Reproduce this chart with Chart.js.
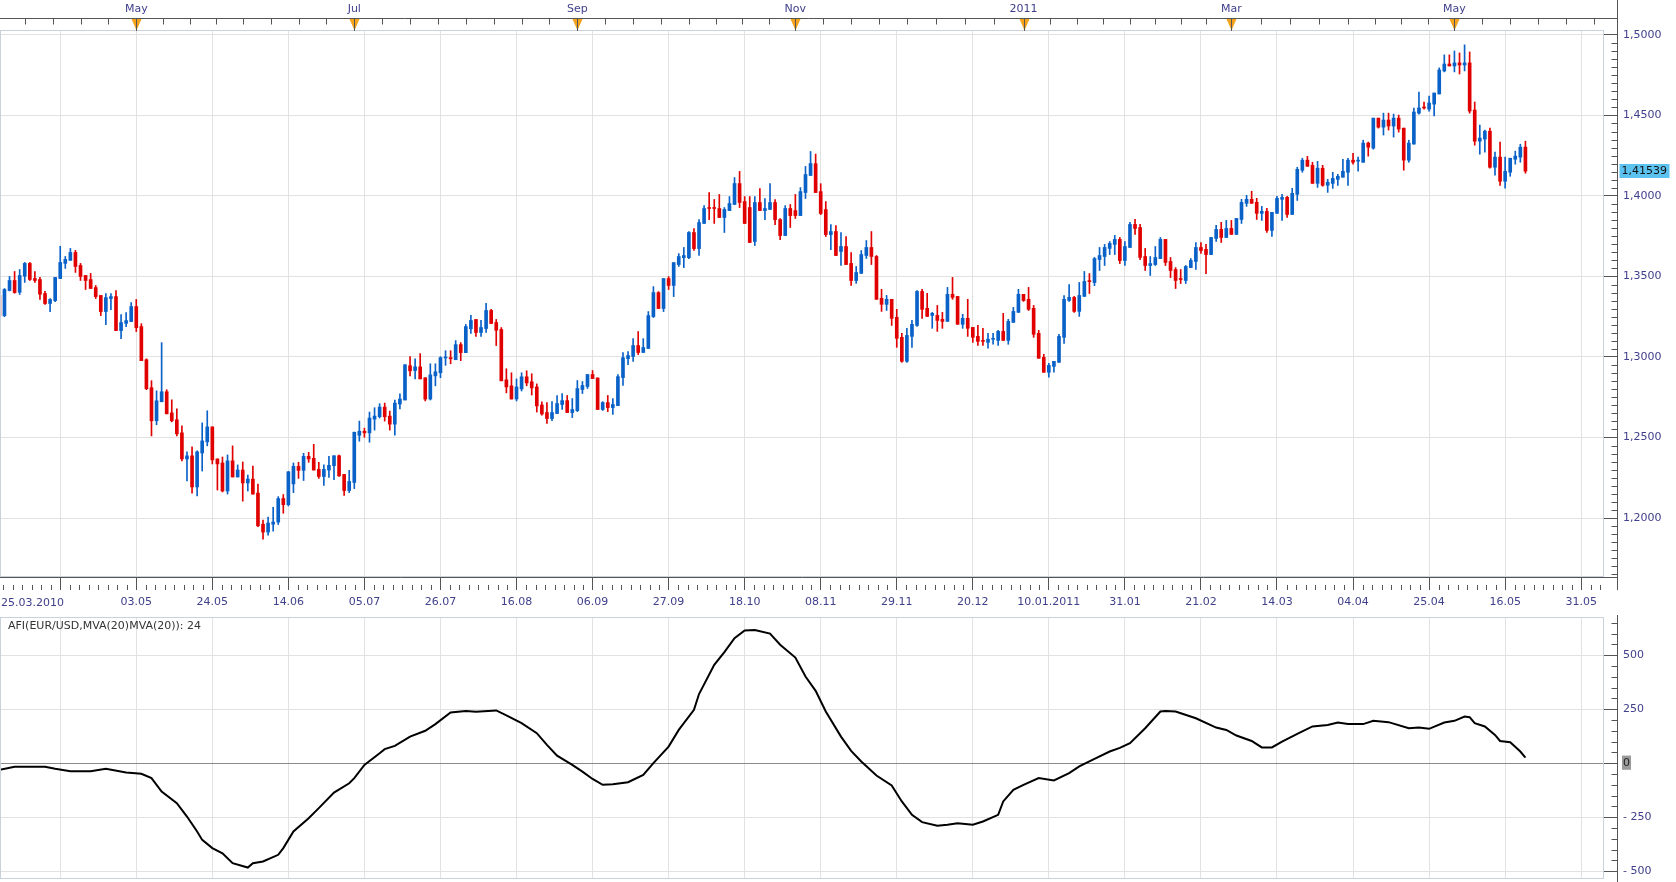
<!DOCTYPE html>
<html>
<head>
<meta charset="utf-8">
<title>EUR/USD daily</title>
<script src="https://cdn.jsdelivr.net/npm/chart.js@4.4.1/dist/chart.umd.min.js"></script>
<style>
  html, body { margin: 0; padding: 0; background: #fff; }
  #wrap { position: relative; width: 1676px; height: 882px; overflow: hidden; }
  #priceChart { position: absolute; left: 0; top: 0; }
  #afiChart { position: absolute; left: 0; top: 615px; }
</style>
</head>
<body>
<div id="wrap">
  <canvas id="priceChart" width="1676" height="615"></canvas>
  <canvas id="afiChart" width="1676" height="267"></canvas>
</div>
<script>
// EUR/USD daily candles, 25.03.2010 .. 20.05.2011 (index = trading day)
const opens = [
  1.3382, 1.3257, 1.3413, 1.3475, 1.3402, 1.3502, 1.3581, 1.3487, 1.3481, 1.3394,
  1.3332, 1.3350, 1.3487, 1.3581, 1.3600, 1.3649, 1.3568, 1.3506, 1.3481, 1.3431,
  1.3382, 1.3282, 1.3363, 1.3375, 1.3164, 1.3209, 1.3220, 1.3313, 1.3189, 1.2983,
  1.2809, 1.2604, 1.2722, 1.2784, 1.2653, 1.2610, 1.2529, 1.2367, 1.2386, 1.2193,
  1.2404, 1.2473, 1.2566, 1.2367, 1.2342, 1.2168, 1.2355, 1.2255, 1.2298, 1.2218,
  1.2242, 1.2155, 1.1962, 1.1913, 1.1962, 1.1975, 1.2121, 1.2083, 1.2212, 1.2321,
  1.2296, 1.2383, 1.2371, 1.2302, 1.2258, 1.2298, 1.2325, 1.2387, 1.2271, 1.2171,
  1.2221, 1.2514, 1.2539, 1.2529, 1.2614, 1.2629, 1.2689, 1.2633, 1.2583, 1.2708,
  1.2733, 1.2946, 1.2916, 1.2939, 1.2871, 1.2739, 1.2883, 1.2902, 1.2994, 1.2996,
  1.2983, 1.3077, 1.3027, 1.3175, 1.3233, 1.3152, 1.3177, 1.3289, 1.3214, 1.3171,
  1.2858, 1.2821, 1.2739, 1.2802, 1.2877, 1.2846, 1.2814, 1.2702, 1.2655, 1.2618,
  1.2649, 1.2705, 1.2729, 1.2655, 1.2667, 1.2798, 1.2817, 1.2891, 1.2870, 1.2674,
  1.2717, 1.2686, 1.2698, 1.2872, 1.2990, 1.3003, 1.3071, 1.3028, 1.3053, 1.3251,
  1.3400, 1.3301, 1.3487, 1.3444, 1.3574, 1.3617, 1.3617, 1.3773, 1.3673, 1.3829,
  1.3928, 1.3928, 1.3922, 1.3866, 1.3909, 1.3947, 1.4077, 1.3965, 1.3928, 1.3717,
  1.3959, 1.3909, 1.3916, 1.3959, 1.3853, 1.3754, 1.3922, 1.3909, 1.3878, 1.4021,
  1.4127, 1.4200, 1.4027, 1.3915, 1.3760, 1.3779, 1.3655, 1.3686, 1.3581, 1.3475,
  1.3519, 1.3630, 1.3680, 1.3624, 1.3364, 1.3327, 1.3358, 1.3246, 1.3122, 1.2973,
  1.3128, 1.3196, 1.3407, 1.3302, 1.3258, 1.3258, 1.3234, 1.3221, 1.3389, 1.3376,
  1.3203, 1.3240, 1.3184, 1.3128, 1.3103, 1.3091, 1.3110, 1.3103, 1.3159, 1.3103,
  1.3215, 1.3277, 1.3389, 1.3358, 1.3302, 1.3147, 1.2998, 1.2905, 1.2942, 1.2967,
  1.3122, 1.3351, 1.3370, 1.3283, 1.3376, 1.3474, 1.3462, 1.3605, 1.3624, 1.3674,
  1.3699, 1.3730, 1.3599, 1.3680, 1.3823, 1.3804, 1.3624, 1.3568, 1.3574, 1.3611,
  1.3730, 1.3593, 1.3543, 1.3487, 1.3475, 1.3555, 1.3593, 1.3680, 1.3668, 1.3636,
  1.3736, 1.3792, 1.3742, 1.3798, 1.3761, 1.3854, 1.3954, 1.3979, 1.3960, 1.3892,
  1.3904, 1.3786, 1.3892, 1.3979, 1.3991, 1.3885, 1.4010, 1.4159, 1.4222, 1.4190,
  1.4078, 1.4172, 1.4066, 1.4078, 1.4103, 1.4116, 1.4147, 1.4222, 1.4216, 1.4209,
  1.4328, 1.4297, 1.4483, 1.4427, 1.4471, 1.4434, 1.4483, 1.4421, 1.4222, 1.4322,
  1.4514, 1.4552, 1.4539, 1.4570, 1.4633, 1.4776, 1.4819, 1.4807, 1.4826, 1.4813,
  1.4826, 1.4533, 1.4340, 1.4353, 1.4402, 1.4178, 1.4241, 1.4091, 1.4147, 1.4228,
  1.4241, 1.4303
];
const highs = [
  1.3395, 1.3425, 1.3500, 1.3531, 1.3543, 1.3587, 1.3587, 1.3531, 1.3494, 1.3407,
  1.3363, 1.3494, 1.3687, 1.3624, 1.3674, 1.3662, 1.3581, 1.3506, 1.3519, 1.3444,
  1.3382, 1.3394, 1.3394, 1.3413, 1.3263, 1.3276, 1.3338, 1.3357, 1.3207, 1.2989,
  1.2853, 1.2790, 1.3089, 1.2797, 1.2734, 1.2678, 1.2572, 1.2411, 1.2442, 1.2417,
  1.2591, 1.2666, 1.2566, 1.2367, 1.2379, 1.2392, 1.2448, 1.2330, 1.2348, 1.2267,
  1.2323, 1.2211, 1.1987, 1.2006, 1.2066, 1.2133, 1.2146, 1.2290, 1.2342, 1.2346,
  1.2402, 1.2408, 1.2458, 1.2346, 1.2331, 1.2383, 1.2387, 1.2391, 1.2271, 1.2296,
  1.2533, 1.2602, 1.2558, 1.2658, 1.2685, 1.2710, 1.2714, 1.2664, 1.2733, 1.2771,
  1.2952, 1.3002, 1.2989, 1.3021, 1.2871, 1.2958, 1.2958, 1.3002, 1.3039, 1.3039,
  1.3102, 1.3089, 1.3202, 1.3258, 1.3233, 1.3227, 1.3333, 1.3296, 1.3233, 1.3183,
  1.2927, 1.2902, 1.2864, 1.2902, 1.2914, 1.2896, 1.2833, 1.2721, 1.2717, 1.2723,
  1.2761, 1.2773, 1.2761, 1.2742, 1.2854, 1.2848, 1.2891, 1.2916, 1.2870, 1.2723,
  1.2761, 1.2742, 1.2891, 1.3028, 1.3034, 1.3114, 1.3158, 1.3114, 1.3282, 1.3437,
  1.3406, 1.3487, 1.3499, 1.3586, 1.3642, 1.3680, 1.3779, 1.3797, 1.3853, 1.3940,
  1.4021, 1.3978, 1.4009, 1.3928, 1.3996, 1.4114, 1.4152, 1.3996, 1.3996, 1.3996,
  1.4046, 1.3984, 1.4077, 1.3978, 1.3860, 1.3940, 1.3947, 1.4009, 1.4052, 1.4183,
  1.4276, 1.4260, 1.4076, 1.3965, 1.3822, 1.3816, 1.3773, 1.3748, 1.3649, 1.3562,
  1.3661, 1.3723, 1.3779, 1.3630, 1.3420, 1.3382, 1.3358, 1.3296, 1.3147, 1.3178,
  1.3227, 1.3413, 1.3420, 1.3395, 1.3277, 1.3320, 1.3277, 1.3432, 1.3494, 1.3376,
  1.3265, 1.3358, 1.3184, 1.3196, 1.3178, 1.3147, 1.3147, 1.3165, 1.3271, 1.3234,
  1.3308, 1.3420, 1.3389, 1.3432, 1.3320, 1.3165, 1.3017, 1.2961, 1.2973, 1.3141,
  1.3382, 1.3450, 1.3376, 1.3463, 1.3531, 1.3518, 1.3618, 1.3680, 1.3699, 1.3717,
  1.3755, 1.3742, 1.3717, 1.3836, 1.3854, 1.3823, 1.3674, 1.3624, 1.3686, 1.3742,
  1.3730, 1.3618, 1.3555, 1.3543, 1.3568, 1.3611, 1.3711, 1.3711, 1.3699, 1.3742,
  1.3817, 1.3836, 1.3848, 1.3848, 1.3860, 1.3979, 1.4004, 1.4029, 1.3985, 1.3935,
  1.3923, 1.3898, 1.3997, 1.4010, 1.3997, 1.4047, 1.4178, 1.4234, 1.4246, 1.4209,
  1.4215, 1.4190, 1.4103, 1.4147, 1.4134, 1.4228, 1.4234, 1.4265, 1.4241, 1.4346,
  1.4334, 1.4483, 1.4483, 1.4514, 1.4514, 1.4508, 1.4502, 1.4421, 1.4346, 1.4546,
  1.4645, 1.4583, 1.4620, 1.4639, 1.4795, 1.4876, 1.4876, 1.4900, 1.4888, 1.4938,
  1.4894, 1.4583, 1.4440, 1.4409, 1.4421, 1.4272, 1.4334, 1.4241, 1.4234, 1.4278,
  1.4321, 1.4340
];
const lows = [
  1.3250, 1.3250, 1.3410, 1.3396, 1.3388, 1.3463, 1.3475, 1.3463, 1.3357, 1.3326,
  1.3282, 1.3344, 1.3487, 1.3550, 1.3600, 1.3525, 1.3475, 1.3419, 1.3425, 1.3363,
  1.3257, 1.3201, 1.3294, 1.3164, 1.3114, 1.3189, 1.3220, 1.3158, 1.2977, 1.2797,
  1.2510, 1.2579, 1.2722, 1.2647, 1.2597, 1.2510, 1.2355, 1.2230, 1.2155, 1.2137,
  1.2292, 1.2448, 1.2336, 1.2174, 1.2162, 1.2149, 1.2255, 1.2255, 1.2105, 1.2168,
  1.2149, 1.1946, 1.1869, 1.1894, 1.1919, 1.1960, 1.2030, 1.2075, 1.2158, 1.2246,
  1.2233, 1.2346, 1.2298, 1.2246, 1.2202, 1.2252, 1.2239, 1.2258, 1.2140, 1.2158,
  1.2183, 1.2477, 1.2502, 1.2471, 1.2546, 1.2621, 1.2602, 1.2546, 1.2514, 1.2677,
  1.2733, 1.2883, 1.2864, 1.2864, 1.2727, 1.2733, 1.2821, 1.2871, 1.2948, 1.2958,
  1.2983, 1.2977, 1.3027, 1.3146, 1.3127, 1.3127, 1.3152, 1.3208, 1.3071, 1.2852,
  1.2777, 1.2739, 1.2727, 1.2789, 1.2821, 1.2764, 1.2658, 1.2639, 1.2587, 1.2605,
  1.2649, 1.2674, 1.2655, 1.2624, 1.2661, 1.2773, 1.2804, 1.2866, 1.2674, 1.2668,
  1.2661, 1.2643, 1.2698, 1.2823, 1.2953, 1.2972, 1.3015, 1.3028, 1.3053, 1.3245,
  1.3301, 1.3282, 1.3419, 1.3375, 1.3562, 1.3555, 1.3611, 1.3661, 1.3630, 1.3829,
  1.3853, 1.3829, 1.3866, 1.3773, 1.3909, 1.3947, 1.3928, 1.3829, 1.3711, 1.3692,
  1.3909, 1.3853, 1.3916, 1.3822, 1.3729, 1.3754, 1.3804, 1.3860, 1.3878, 1.3984,
  1.4127, 1.4021, 1.3884, 1.3748, 1.3667, 1.3630, 1.3568, 1.3574, 1.3444, 1.3457,
  1.3519, 1.3612, 1.3574, 1.3358, 1.3283, 1.3289, 1.3196, 1.3060, 1.2967, 1.2967,
  1.3060, 1.3190, 1.3240, 1.3252, 1.3178, 1.3159, 1.3178, 1.3221, 1.3358, 1.3203,
  1.3178, 1.3128, 1.3091, 1.3072, 1.3072, 1.3054, 1.3079, 1.3072, 1.3103, 1.3079,
  1.3215, 1.3277, 1.3345, 1.3289, 1.3122, 1.2992, 1.2905, 1.2874, 1.2905, 1.2967,
  1.3085, 1.3345, 1.3277, 1.3252, 1.3376, 1.3394, 1.3443, 1.3537, 1.3568, 1.3636,
  1.3636, 1.3580, 1.3568, 1.3680, 1.3761, 1.3605, 1.3537, 1.3506, 1.3568, 1.3611,
  1.3568, 1.3493, 1.3425, 1.3456, 1.3456, 1.3555, 1.3543, 1.3643, 1.3518, 1.3636,
  1.3717, 1.3711, 1.3742, 1.3761, 1.3761, 1.3829, 1.3935, 1.3954, 1.3854, 1.3848,
  1.3773, 1.3748, 1.3892, 1.3848, 1.3867, 1.3885, 1.3972, 1.4147, 1.4184, 1.4078,
  1.4053, 1.4060, 1.4022, 1.4047, 1.4066, 1.4116, 1.4066, 1.4197, 1.4153, 1.4209,
  1.4247, 1.4290, 1.4421, 1.4378, 1.4409, 1.4365, 1.4396, 1.4160, 1.4209, 1.4322,
  1.4508, 1.4539, 1.4527, 1.4496, 1.4633, 1.4770, 1.4807, 1.4770, 1.4757, 1.4776,
  1.4514, 1.4315, 1.4259, 1.4272, 1.4172, 1.4129, 1.4066, 1.4048, 1.4122, 1.4197,
  1.4209, 1.4141
];
const closes = [
  1.3257, 1.3419, 1.3475, 1.3400, 1.3506, 1.3581, 1.3481, 1.3475, 1.3390, 1.3332,
  1.3357, 1.3494, 1.3587, 1.3606, 1.3649, 1.3562, 1.3500, 1.3475, 1.3425, 1.3375,
  1.3282, 1.3369, 1.3375, 1.3164, 1.3214, 1.3226, 1.3313, 1.3182, 1.2977, 1.2803,
  1.2604, 1.2728, 1.2784, 1.2647, 1.2604, 1.2523, 1.2367, 1.2386, 1.2193, 1.2411,
  1.2479, 1.2566, 1.2361, 1.2336, 1.2168, 1.2355, 1.2255, 1.2298, 1.2218, 1.2242,
  1.2149, 1.1952, 1.1913, 1.1969, 1.1975, 1.2121, 1.2083, 1.2287, 1.2321, 1.2296,
  1.2383, 1.2367, 1.2298, 1.2258, 1.2302, 1.2327, 1.2387, 1.2262, 1.2171, 1.2227,
  1.2533, 1.2539, 1.2529, 1.2621, 1.2633, 1.2689, 1.2629, 1.2583, 1.2714, 1.2739,
  1.2952, 1.2914, 1.2939, 1.2864, 1.2739, 1.2889, 1.2908, 1.2996, 1.3000, 1.2989,
  1.3077, 1.3027, 1.3189, 1.3227, 1.3152, 1.3183, 1.3289, 1.3208, 1.3166, 1.2852,
  1.2814, 1.2739, 1.2814, 1.2877, 1.2839, 1.2808, 1.2696, 1.2646, 1.2618, 1.2655,
  1.2711, 1.2729, 1.2655, 1.2674, 1.2804, 1.2823, 1.2891, 1.2866, 1.2674, 1.2717,
  1.2686, 1.2705, 1.2878, 1.2996, 1.3009, 1.3071, 1.3028, 1.3059, 1.3257, 1.3400,
  1.3301, 1.3487, 1.3444, 1.3586, 1.3624, 1.3630, 1.3773, 1.3673, 1.3835, 1.3922,
  1.3922, 1.3922, 1.3866, 1.3916, 1.3953, 1.4077, 1.3959, 1.3829, 1.3711, 1.3959,
  1.3909, 1.3922, 1.3959, 1.3853, 1.3754, 1.3922, 1.3878, 1.3878, 1.4027, 1.4133,
  1.4201, 1.4021, 1.3891, 1.3760, 1.3779, 1.3630, 1.3686, 1.3574, 1.3475, 1.3525,
  1.3636, 1.3680, 1.3624, 1.3358, 1.3327, 1.3358, 1.3240, 1.3116, 1.2973, 1.3134,
  1.3203, 1.3407, 1.3296, 1.3252, 1.3271, 1.3227, 1.3221, 1.3389, 1.3370, 1.3203,
  1.3240, 1.3178, 1.3122, 1.3097, 1.3097, 1.3110, 1.3116, 1.3159, 1.3103, 1.3221,
  1.3283, 1.3389, 1.3351, 1.3296, 1.3141, 1.2992, 1.2905, 1.2948, 1.2973, 1.3128,
  1.3358, 1.3370, 1.3283, 1.3382, 1.3469, 1.3468, 1.3611, 1.3630, 1.3680, 1.3705,
  1.3730, 1.3599, 1.3686, 1.3823, 1.3798, 1.3618, 1.3568, 1.3580, 1.3618, 1.3730,
  1.3587, 1.3537, 1.3475, 1.3481, 1.3562, 1.3599, 1.3680, 1.3661, 1.3636, 1.3742,
  1.3792, 1.3742, 1.3798, 1.3761, 1.3860, 1.3960, 1.3979, 1.3954, 1.3892, 1.3904,
  1.3786, 1.3898, 1.3985, 1.3991, 1.3885, 1.4016, 1.4165, 1.4222, 1.4184, 1.4078,
  1.4172, 1.4066, 1.4085, 1.4109, 1.4122, 1.4153, 1.4222, 1.4209, 1.4222, 1.4328,
  1.4303, 1.4483, 1.4427, 1.4471, 1.4434, 1.4483, 1.4415, 1.4222, 1.4328, 1.4521,
  1.4546, 1.4546, 1.4577, 1.4639, 1.4782, 1.4819, 1.4807, 1.4826, 1.4813, 1.4826,
  1.4527, 1.4340, 1.4359, 1.4402, 1.4178, 1.4241, 1.4091, 1.4153, 1.4234, 1.4247,
  1.4303, 1.4154
];
const lastPrice = 1.41539;

// AFI indicator, sampled along the curve (trading day index, value)
const afiDays = [
  0, 3, 9, 11, 14, 18, 21, 25, 28, 30, 32, 35, 37, 39, 40, 42, 44, 46, 49, 50,
  52, 55, 56, 58, 61, 63, 66, 69, 70, 72, 75, 76, 78, 81, 84, 86, 89, 92, 94, 98,
  100, 103, 106, 108, 110, 113, 115, 117, 119, 121, 124, 127, 129, 132, 134, 137, 138, 141, 143, 145,
  147, 149, 152, 154, 157, 159, 161, 163, 166, 168, 170, 173, 176, 178, 180, 182, 185, 187, 189, 192,
  194, 197, 198, 200, 202, 205, 208, 211, 213, 216, 219, 221, 223, 226, 229, 230, 232, 236, 240, 242,
  244, 247, 249, 251, 253, 256, 259, 262, 264, 266, 269, 271, 274, 278, 280, 282, 285, 287, 289, 290,
  291, 293, 295, 296, 298, 300, 301
];
const afiValues = [
  -31, -17, -17, -26, -37, -37, -26, -43, -49, -69, -131, -185, -247, -316, -355, -393, -417, -463, -483, -463,
  -455, -424, -393, -316, -255, -208, -136, -93, -69, -8, 46, 65, 80, 123, 150, 181, 235, 241, 238, 244,
  221, 185, 139, 85, 35, -8, -39, -73, -100, -97, -88, -54, 0, 77, 154, 247, 320, 455, 514, 579,
  614, 616, 600, 548, 489, 401, 335, 239, 123, 57, 8, -57, -103, -177, -239, -273, -289, -285, -278, -285,
  -270, -239, -177, -123, -100, -69, -80, -46, -15, 20, 54, 71, 93, 162, 239, 242, 239, 208, 165, 154,
  128, 103, 73, 73, 100, 136, 170, 177, 188, 181, 181, 196, 190, 162, 165, 159, 188, 196, 216, 213,
  185, 170, 131, 103, 97, 54, 26
];

// axes
const firstDateLabel = '25.03.2010';
const dateTickIdx = [12, 27, 42, 57, 72, 87, 102, 117, 132, 147, 162, 177, 192, 207, 222, 237, 252, 267, 282, 297, 312];
const dateTickLabels = ['', '03.05', '24.05', '14.06', '05.07', '26.07', '16.08', '06.09', '27.09', '18.10', '08.11',
  '29.11', '20.12', '10.01.2011', '31.01', '21.02', '14.03', '04.04', '25.04', '16.05', '31.05'];
const monthStarts = [-18, 5, 27, 48, 70, 92, 114, 136, 157, 179, 202, 223, 243, 266, 287, 309, 331];
const monthTickIdx = [27, 70, 114, 157, 202, 243, 287];
const monthTickLabels = ['May', 'Jul', 'Sep', 'Nov', '2011', 'Mar', 'May'];
const priceTicks = [1.20, 1.25, 1.30, 1.35, 1.40, 1.45, 1.50];
const afiTicks = [-500, -250, 0, 250, 500];
const afiTitle = 'AFI(EUR/USD,MVA(20)MVA(20)): 24';

const X_MIN = 0.12, X_MAX = 316.5;
const UP = '#0a62c8', DOWN = '#e10000';
const GRID = '#e2e2e2', FRAME = '#c9d1dc', AXIS = '#555555', TEXT = '#40408c';
const FONT_FAMILY = "'DejaVu Sans', Verdana, sans-serif";

Chart.defaults.font.family = FONT_FAMILY;
Chart.defaults.font.size = 11;

const candleColors = closes.map((c, i) => (c >= opens[i] ? UP : DOWN));
const wickData = highs.map((h, i) => ({ x: i, y: [lows[i], h] }));
const bodyData = opens.map((o, i) => ({ x: i, y: [o, closes[i]] }));

function noPad(s) { s.paddingLeft = 0; s.paddingRight = 0; s.paddingTop = 0; s.paddingBottom = 0; }

// extra axis furniture: frame, top time axis, minor ticks, price tag
const priceDecor = {
  id: 'priceDecor',
  afterDraw(chart) {
    const { ctx, chartArea: a } = chart;
    const xs = chart.scales.x, ys = chart.scales.y;
    const axisX = Math.round(a.right) + 13.5;
    const topY = 18.5;
    ctx.save();
    ctx.lineWidth = 1;

    ctx.strokeStyle = FRAME;
    ctx.strokeRect(a.left + 0.5, a.top - 0.5, a.right - a.left - 1, a.bottom - a.top);

    ctx.strokeStyle = AXIS;
    ctx.beginPath();
    ctx.moveTo(0, topY); ctx.lineTo(axisX, topY);
    ctx.moveTo(axisX, 0); ctx.lineTo(axisX, a.bottom + 13);
    ctx.moveTo(a.right, a.bottom + 0.5); ctx.lineTo(axisX, a.bottom + 0.5);

    for (let k = 0; k < monthStarts.length - 1; k++) {
      const from = monthStarts[k], to = monthStarts[k + 1];
      for (let q = 0; q < 4; q++) {
        const v = from + (to - from) * q / 4;
        if (v < xs.min || v > xs.max) continue;
        const px = Math.round(xs.getPixelForValue(v)) + 0.5;
        ctx.moveTo(px, topY); ctx.lineTo(px, topY + 6);
      }
    }

    const step = 15 / 8;
    for (let k = -8; ; k++) {
      const v = dateTickIdx[0] + k * step;
      if (v > xs.max) break;
      if (v < xs.min || k % 8 === 0) continue;
      const px = Math.round(xs.getPixelForValue(v)) + 0.5;
      ctx.moveTo(px, a.bottom + 8); ctx.lineTo(px, a.bottom + 13);
    }

    for (let m = 233; m <= 300; m++) {
      if (m % 10 === 0) continue;
      const py = Math.round(ys.getPixelForValue(m / 200)) + 0.5;
      ctx.moveTo(axisX - 6, py); ctx.lineTo(axisX, py);
    }
    ctx.stroke();

    monthTickIdx.forEach(v => {
      const px = Math.round(xs.getPixelForValue(v)) + 0.5;
      ctx.fillStyle = '#f5a21c';
      ctx.beginPath();
      ctx.moveTo(px - 5, topY + 0.5);
      ctx.lineTo(px + 5, topY + 0.5);
      ctx.lineTo(px, topY + 12);
      ctx.closePath();
      ctx.fill();
      ctx.beginPath();
      ctx.moveTo(px, topY); ctx.lineTo(px, a.top);
      ctx.stroke();
    });

    ctx.font = '11px ' + FONT_FAMILY;
    ctx.textBaseline = 'middle';
    ctx.textAlign = 'left';
    ctx.fillStyle = TEXT;
    ctx.fillText(firstDateLabel, 1, a.bottom + 26);

    const py = ys.getPixelForValue(lastPrice);
    ctx.fillStyle = '#5cc3f1';
    ctx.fillRect(axisX + 2, Math.round(py) - 7, 50, 14);
    ctx.fillStyle = '#111111';
    ctx.fillText(lastPrice.toFixed(5).replace('.', ','), axisX + 4, Math.round(py) + 0.5);
    ctx.restore();
  }
};

const afiDecor = {
  id: 'afiDecor',
  afterDraw(chart) {
    const { ctx, chartArea: a } = chart;
    const ys = chart.scales.y;
    const axisX = Math.round(a.right) + 13.5;
    ctx.save();
    ctx.lineWidth = 1;
    ctx.strokeStyle = FRAME;
    ctx.strokeRect(a.left + 0.5, a.top - 0.5, a.right - a.left - 1, a.bottom - a.top);

    ctx.strokeStyle = AXIS;
    ctx.beginPath();
    ctx.moveTo(axisX, 0); ctx.lineTo(axisX, chart.height);
    for (let v = -500; v <= 650; v += 50) {
      if (v % 250 === 0) continue;
      const py = Math.round(ys.getPixelForValue(v)) + 0.5;
      ctx.moveTo(axisX - 6, py); ctx.lineTo(axisX, py);
    }
    ctx.stroke();

    ctx.font = '11px ' + FONT_FAMILY;
    ctx.textBaseline = 'middle';
    ctx.textAlign = 'left';
    ctx.fillStyle = '#333333';
    ctx.fillText(afiTitle, 8, a.top + 8);
    ctx.restore();
  }
};

new Chart(document.getElementById('priceChart'), {
  type: 'bar',
  data: {
    datasets: [
      { label: 'High/Low', data: wickData, backgroundColor: candleColors, barThickness: 1, grouped: false },
      { label: 'Open/Close', data: bodyData, backgroundColor: candleColors, barThickness: 3, grouped: false, minBarLength: 1 }
    ]
  },
  options: {
    responsive: false,
    animation: false,
    devicePixelRatio: 1,
    layout: { padding: 0 },
    plugins: { legend: { display: false }, tooltip: { enabled: false } },
    scales: {
      x: {
        type: 'linear', position: 'bottom', min: X_MIN, max: X_MAX, offset: false,
        afterBuildTicks: s => { s.ticks = dateTickIdx.map(v => ({ value: v })); },
        afterFit: s => { s.height = 38; noPad(s); },
        grid: { offset: false, color: GRID, tickColor: AXIS, tickLength: 13 },
        border: { display: true, color: AXIS },
        ticks: { autoSkip: false, maxRotation: 0, padding: 6, color: TEXT, callback: (v, i) => dateTickLabels[i] }
      },
      x2: {
        type: 'linear', position: 'top', min: X_MIN, max: X_MAX, offset: false,
        afterBuildTicks: s => { s.ticks = monthTickIdx.map(v => ({ value: v })); },
        afterFit: s => { s.height = 31; noPad(s); },
        grid: { offset: false, drawOnChartArea: false, drawTicks: false },
        border: { display: false },
        ticks: { autoSkip: false, maxRotation: 0, padding: 15, color: TEXT, callback: (v, i) => monthTickLabels[i] }
      },
      y: {
        position: 'right', min: 1.1634, max: 1.5024,
        afterBuildTicks: s => { s.ticks = priceTicks.map(v => ({ value: v })); },
        afterFit: s => { s.width = 72; noPad(s); },
        grid: { color: GRID, tickColor: AXIS, tickLength: 13 },
        border: { display: false },
        ticks: { padding: 6, color: TEXT, callback: v => v.toFixed(4).replace('.', ',') }
      }
    }
  },
  plugins: [priceDecor]
});

new Chart(document.getElementById('afiChart'), {
  type: 'line',
  data: {
    datasets: [{
      label: afiTitle,
      data: afiDays.map((d, k) => ({ x: d, y: afiValues[k] })),
      borderColor: '#000000',
      borderWidth: 2,
      pointRadius: 0,
      tension: 0,
      fill: false
    }]
  },
  options: {
    responsive: false,
    animation: false,
    devicePixelRatio: 1,
    layout: { padding: { top: 3, left: 0, right: 0, bottom: 0 } },
    plugins: { legend: { display: false }, tooltip: { enabled: false } },
    scales: {
      x: {
        type: 'linear', min: X_MIN, max: X_MAX, offset: false,
        afterBuildTicks: s => { s.ticks = dateTickIdx.map(v => ({ value: v })); },
        afterFit: s => { s.height = 3; noPad(s); },
        grid: { color: GRID, drawTicks: false },
        border: { display: false },
        ticks: { display: false }
      },
      y: {
        position: 'right', min: -536, max: 672,
        afterBuildTicks: s => { s.ticks = afiTicks.map(v => ({ value: v })); },
        afterFit: s => { s.width = 72; noPad(s); },
        grid: {
          color: c => (c.tick && c.tick.value === 0 ? '#8a8a8a' : GRID),
          tickColor: AXIS, tickLength: 13
        },
        border: { display: false },
        ticks: {
          padding: 6,
          color: c => (c.tick && c.tick.value === 0 ? '#222222' : TEXT),
          showLabelBackdrop: c => !!(c.tick && c.tick.value === 0),
          backdropColor: '#9a9a9a',
          backdropPadding: { top: 1, bottom: 0, left: 1, right: 1 },
          callback: v => (v < 0 ? '- ' + Math.abs(v) : String(v))
        }
      }
    }
  },
  plugins: [afiDecor]
});
</script>
</body>
</html>
